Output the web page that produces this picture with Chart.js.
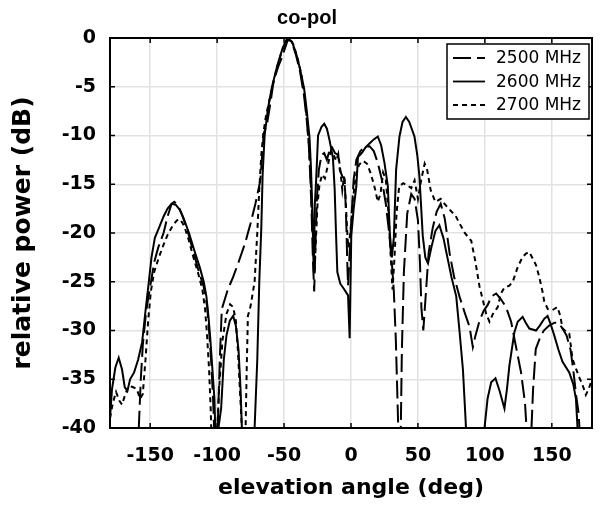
<!DOCTYPE html>
<html>
<head>
<meta charset="utf-8">
<script src="https://cdn.jsdelivr.net/npm/chart.js@4.4.1/dist/chart.umd.min.js"></script>
<style>
  html, body { margin: 0; padding: 0; background: #fff; }
  #wrap { width: 601px; height: 507px; }
</style>
</head>
<body>
<div id="wrap"><canvas id="copolChart" width="601" height="507"></canvas></div>
<script>
// Values (dB below peak, -42 = below the plot floor)
const angles2500 = [-160, -158.5, -157, -155.5, -153, -150, -147, -144, -140, -137, -134, -132, -129, -126, -122, -118, -114, -110, -107.5, -106, -104.5, -103, -102,
  -100, -98, -96.5, -92, -88, -84, -79, -75, -71.4, -67.7, -65.2, -62.7, -60, -57.8, -54, -51.6, -48, -46.6, -44, -41, -38, -35, -33, -31.5, -30.5, -29.5, -28.5, -27.5,
  -26.5, -25.5, -24, -22, -20, -18, -16, -14.6, -12, -9.5, -8.4, -6.5, -4.7, -3.5, -2.8, -2.2, -1, 0.5, 2, 4, 7, 10, 13.9, 17, 20, 23, 26, 28.5, 30.5, 32, 33.5, 34.5, 35.3, 36,
  37, 38, 39.5, 42, 45, 47.5, 50, 51.5, 52.6, 54, 56, 58, 61, 64, 67, 70, 73.7, 77, 81, 85, 88.5, 91, 93, 96, 99, 102, 105, 108.4, 112, 115.8, 119.6, 123, 127, 130, 131.5,
  134.5, 136, 138, 141, 144, 148, 152, 155, 158, 161, 164, 166, 168, 170, 171.5];
const power2500 = [-45, -40, -35, -31.5, -28, -25.5, -23, -21.5, -20, -18.3, -17, -16.8, -17.2, -18.2, -19.8, -21.8, -23.8, -25.5, -27.5, -30, -33, -37, -41,
  -42, -33, -27.8, -25.8, -24.5, -23, -21, -19, -17, -14.6, -9.8, -8.8, -6.5, -4.4, -2.8, -2, -0.5, -0.1, -0.5, -1.8, -3.5, -6, -8.5, -11, -14, -17.5, -22.5, -26,
  -21, -16.5, -13.5, -12, -11.8, -12.5, -11.5, -11.1, -11.8, -12, -13.5, -14.2, -14.5, -19, -23, -25.4, -22, -18, -14.5, -12.5, -11.6, -11.2, -11.1, -11.6, -12.8, -14.5, -17, -20, -23, -26, -31, -36, -40, -42,
  -42, -32, -24, -18, -16, -16.5, -18.7, -23, -27.7, -30, -26, -22, -19.5, -17.8, -17, -18.5, -22.1, -24.5, -26.5, -28.2, -29.6, -31.7, -30.5, -29, -28, -27.4, -26.5, -26.2, -26.8, -27.6, -29.1, -31.5, -34.3, -37.5, -41,
  -41, -36, -31.9, -30.8, -30, -29.5, -29.2, -29.2, -29.8, -30.5, -32, -34, -36.5, -38.5, -42];

const angles2600 = [-180, -178.5, -176, -173.5, -171, -169, -167, -165, -162, -159, -156, -153.5, -151, -149, -146.5, -143.5, -140, -137, -134, -131, -128, -125, -121, -117, -113, -110, -108, -106.5, -105, -103.5, -102, -101,
  -97, -95, -93, -90.5, -88, -86, -84, -82.5, -81, -74, -72, -70, -68.5, -67, -66, -64.5, -62, -59, -55, -51, -47.5, -44, -41, -38, -35, -33, -31, -30, -29, -28.3, -27.8,
  -27, -26, -24.6, -22, -20, -18, -16, -13.5, -12.2, -11.2, -10.2, -8, -5, -2.2, -1, 0.2, 2, 4, 5.2, 8, 11, 14, 17, 20, 22.5, 25, 27.5, 29, 30.5, 32, 33.7, 36.2, 38.5, 41,
  43.5, 47.4, 49.5, 51.1, 53.6, 55.5, 57.5, 60, 63, 66, 69, 72, 75, 78.6, 81, 83.6, 85.6, 86.5, 98, 99.7, 102, 104.7, 107.9, 111, 114.6, 116.5, 118.3, 122, 124.5, 128.2,
  130.5, 133.2, 138.2, 141, 144.3, 146.8, 149, 151.8, 155, 158, 163, 166, 168, 169.2, 170];
const power2600 = [-39, -36, -33.8, -32.8, -34, -35.8, -36.2, -35, -34.3, -33, -31.2, -28, -25, -22.5, -20.5, -19.5, -18.3, -17.5, -17, -17.1, -17.6, -18.5, -20, -21.8, -23.5, -25, -26.5, -28.5, -31, -34, -37, -42,
  -38, -33, -30.5, -29, -28.5, -29.5, -32, -36, -42, -45, -40, -33, -25, -19.5, -14, -10, -7.2, -5, -2.8, -1, 0, -0.4, -1.6, -3.2, -5.2, -7.5, -10.2, -13, -17, -21, -24,
  -17, -14.5, -10, -9.1, -8.8, -9.3, -10.5, -12.3, -15.5, -20, -24, -25.2, -25.8, -26.4, -30.8, -20.3, -17.5, -15.2, -12.2, -11.8, -11.2, -10.8, -10.4, -10.1, -11, -12.8, -15.2, -20, -22.5, -20.5, -13.5, -10.1, -8.6, -8.1,
  -8.6, -10.1, -12, -14.2, -20.3, -22.5, -23.1, -21.5, -19.8, -19.2, -20.5, -22.5, -24.5, -26.5, -30, -34, -39.2, -42, -42, -40, -37, -35.3, -34.9, -36.2, -38, -36, -33.6, -30.2, -29.1, -28.6,
  -29.2, -29.8, -30, -29.5, -28.8, -28.5, -29.3, -30.5, -32, -33.2, -34.3, -35.5, -37, -40, -42];

const angles2700 = [-180, -178, -175.5, -173, -171, -168.5, -166, -163, -160, -157.5, -155.5, -153.5, -151.5, -149.5, -147, -143.5, -140, -137, -133, -130, -127.5, -124.5, -121, -117.5, -114, -111, -109, -107.5, -106, -104.8, -104,
  -100.5, -98.5, -96, -93, -90.3, -88, -86, -84.5, -83, -81.5, -80.5, -79, -77.9, -77, -75, -72, -70, -68.5, -67, -65.5, -63.5, -60, -56, -52, -48.5, -46, -43, -40, -37, -34.5, -32.5, -31, -30, -29, -28, -27.2,
  -26, -25, -23.5, -21.5, -19.5, -17.5, -15, -13, -11, -9.5, -8, -6.5, -5.2, -4, -3, -2, -0.5, 1.5, 3.5, 6, 9, 12, 15, 18, 20, 22, 24, 26, 28, 29.5, 31, 32.5, 34, 36, 39, 42, 45, 47.5, 50, 52.5, 55, 57, 59.5,
  63, 67, 71, 75, 78, 81, 85, 89.8, 93, 96, 98.5, 101, 103.4, 106, 109.6, 112, 114.6, 118.3, 120.8, 124.5, 128, 130.7, 133.2, 136, 138.2, 140.6, 143, 144.3, 147, 150.5, 154.2, 156.3, 158, 160.5, 163,
  165.4, 168, 170.5, 173, 175.4, 177.5, 180];
const power2700 = [-39, -37.5, -36.3, -37.2, -37.6, -36.5, -35.7, -35.8, -36, -37, -36.5, -33, -29, -26, -24, -22.5, -21.2, -20.2, -19.2, -18.7, -18.6, -19.3, -20.8, -22.6, -24.2, -25.8, -27.8, -30.5, -34, -38, -42,
  -42, -36, -31, -28.3, -27.3, -27.6, -29, -32, -36, -40, -42, -42, -34, -28.5, -27.5, -25, -20, -15.5, -12, -9.8, -8, -5.8, -3.4, -1.5, -0.3, 0, -0.7, -2, -3.8, -6.2, -9, -12, -15, -18.5, -22, -24,
  -20, -17, -15, -14, -14.4, -13.2, -11.6, -12, -12.6, -11.9, -13.5, -15.6, -14.2, -16.5, -19.5, -21.5, -20, -16.5, -14.2, -13, -12.6, -12.9, -14, -15.5, -16.8, -16, -13.8, -14.5, -18, -22, -25.8, -22.5, -18, -15.2, -14.9, -15.1, -15.4, -14.6, -16.5, -14.5, -12.9, -13.6, -15.6,
  -16.8, -16.5, -17.2, -17.8, -18.2, -19, -20, -20.8, -23, -25.5, -26.9, -28.3, -29.1, -28.3, -27.6, -26.2, -25.6, -25.4, -25, -23.5, -22.5, -22.1, -21.95, -22.7, -23.3, -24.5, -26, -27, -27.8, -27.9, -27.6, -28.5, -29.8, -30.1, -30.3,
  -32.9, -33.9, -34.8, -35.6, -36.6, -36, -35];

const seriesLabels = ['2500 MHz', '2600 MHz', '2700 MHz'];
const xTicks = [-150, -100, -50, 0, 50, 100, 150];
const yTicks = [0, -5, -10, -15, -20, -25, -30, -35, -40];

function toPoints(xs, ys) {
  return xs.map((x, i) => ({ x: x, y: ys[i] }));
}

// inward tick marks, black frame and the boxed legend in the upper right
const framePlugin = {
  id: 'frame',
  afterDatasetsDraw(chart) {
    const ctx = chart.ctx;
    const a = chart.chartArea;
    const xs = chart.scales.x, ys = chart.scales.y;
    ctx.save();
    ctx.strokeStyle = '#000';
    ctx.lineWidth = 1.5;
    ctx.beginPath();
    xTicks.forEach(v => {
      const px = xs.getPixelForValue(v);
      ctx.moveTo(px, a.top); ctx.lineTo(px, a.top + 5);
      ctx.moveTo(px, a.bottom); ctx.lineTo(px, a.bottom - 5);
    });
    yTicks.forEach(v => {
      const py = ys.getPixelForValue(v);
      ctx.moveTo(a.left, py); ctx.lineTo(a.left + 5, py);
      ctx.moveTo(a.right, py); ctx.lineTo(a.right - 5, py);
    });
    ctx.stroke();
    ctx.lineWidth = 2;
    ctx.strokeRect(a.left, a.top, a.right - a.left, a.bottom - a.top);

    // legend box
    const bx = a.right - 145, by = a.top + 6, bw = 142, bh = 75;
    ctx.fillStyle = '#fff';
    ctx.fillRect(bx, by, bw, bh);
    ctx.lineWidth = 1.5;
    ctx.strokeRect(bx, by, bw, bh);
    ctx.font = '17px "DejaVu Sans"';
    ctx.fillStyle = '#000';
    ctx.textBaseline = 'middle';
    chart.data.datasets.forEach((ds, i) => {
      const ly = by + 14 + i * 23.5;
      ctx.setLineDash(ds.borderDash || []);
      ctx.lineWidth = 1.8;
      ctx.beginPath();
      ctx.moveTo(bx + 6, ly);
      ctx.lineTo(bx + 38, ly);
      ctx.stroke();
      ctx.setLineDash([]);
      ctx.fillText(ds.label, bx + 49, ly + 1);
    });
    ctx.restore();
  }
};

const ctx = document.getElementById('copolChart').getContext('2d');
const copolChart = new Chart(ctx, {
  type: 'scatter',
  data: {
    datasets: [
      { label: seriesLabels[0], data: toPoints(angles2500, power2500), borderDash: [18, 6] },
      { label: seriesLabels[1], data: toPoints(angles2600, power2600), borderDash: [] },
      { label: seriesLabels[2], data: toPoints(angles2700, power2700), borderDash: [5, 4] }
    ].map(ds => Object.assign(ds, {
      showLine: true,
      borderColor: '#000',
      backgroundColor: '#000',
      borderWidth: 2,
      pointRadius: 0,
      tension: 0,
      fill: false
    }))
  },
  options: {
    responsive: false,
    animation: false,
    devicePixelRatio: 1,
    layout: { padding: { top: 0, left: 22, right: 9, bottom: 0 } },
    plugins: {
      legend: { display: false },
      tooltip: { enabled: false },
      title: {
        display: true,
        text: 'co-pol',
        color: '#000',
        font: { family: 'Liberation Sans', size: 20, weight: 'bold' },
        padding: { top: 6, bottom: 8 }
      }
    },
    scales: {
      x: {
        type: 'linear',
        min: -180,
        max: 180,
        afterBuildTicks: scale => { scale.ticks = xTicks.map(v => ({ value: v })); },
        afterFit: scale => { scale.height = 79; },
        grid: { color: '#e2e2e2', lineWidth: 1.5, drawTicks: false },
        border: { display: false },
        ticks: {
          color: '#000',
          padding: 17,
          maxRotation: 0,
          font: { family: 'DejaVu Sans', size: 19, weight: 'bold' },
          callback: v => String(v)
        },
        title: {
          display: true,
          text: 'elevation angle (deg)',
          color: '#000',
          font: { family: 'DejaVu Sans', size: 22, weight: 'bold' },
          padding: { top: 0, bottom: 6 }
        }
      },
      y: {
        type: 'linear',
        min: -40,
        max: 0,
        afterBuildTicks: scale => { scale.ticks = yTicks.map(v => ({ value: v })); },
        afterFit: scale => { scale.width = 88; },
        grid: { color: '#e2e2e2', lineWidth: 1.5, drawTicks: false },
        border: { display: false },
        ticks: {
          color: '#000',
          padding: 14,
          font: { family: 'DejaVu Sans', size: 19, weight: 'bold' },
          callback: v => String(v)
        },
        title: {
          display: true,
          text: 'relative power (dB)',
          color: '#000',
          font: { family: 'DejaVu Sans', size: 25, weight: 'bold' },
          padding: { top: -14, bottom: 0 }
        }
      }
    }
  },
  plugins: [framePlugin]
});
</script>
</body>
</html>
